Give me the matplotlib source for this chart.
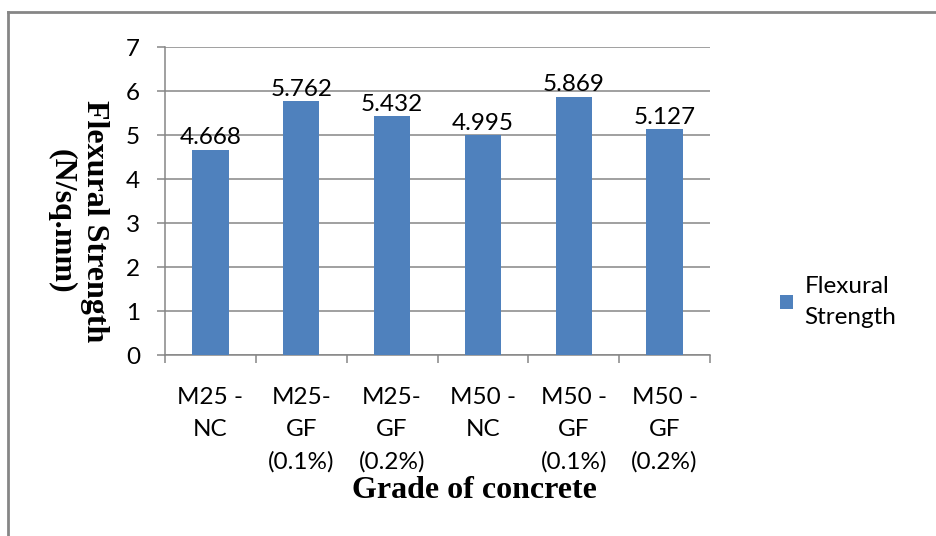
import matplotlib.pyplot as plt
from matplotlib.lines import Line2D

categories = ["M25 -\nNC", "M25-\nGF\n(0.1%)", "M25-\nGF\n(0.2%)",
              "M50 -\nNC", "M50 -\nGF\n(0.1%)", "M50 -\nGF\n(0.2%)"]
strength = [4.668, 5.762, 5.432, 4.995, 5.869, 5.127]
y_ticks = [0, 1, 2, 3, 4, 5, 6, 7]

bar_color = "#4F81BD"
grid_color = "#868686"
label_font = "Lato"
title_font = "Liberation Serif"
fs = 17.5

fig = plt.figure(figsize=(9.36, 5.36), dpi=100)
ax = fig.add_axes([165 / 936, 1 - 355 / 536, 545 / 936, 308 / 536])

x = list(range(len(categories)))
ax.bar(x, strength, width=0.4, color=bar_color, zorder=3,
       label="Flexural\nStrength")

for xi, v in zip(x, strength):
    ax.annotate(f"{v:.3f}", (xi, v), xytext=(0, 1), textcoords="offset points",
                ha="center", va="bottom", fontsize=fs, family=label_font)

ax.set_xlim(-0.5, len(categories) - 0.5)
ax.set_ylim(0, 7)
ax.set_yticks(y_ticks)
ax.set_yticklabels([str(t) for t in y_ticks], family=label_font, fontsize=fs)
# category boundaries carry the tick marks, centres carry the names
ax.set_xticks([i - 0.5 for i in range(len(categories) + 1)])
ax.set_xticklabels([])
ax.set_xticks(x, minor=True)
ax.set_xticklabels(categories, minor=True, family=label_font, fontsize=fs,
                   linespacing=1.65, va="top")

ax.yaxis.grid(True, color=grid_color, linewidth=1.1, zorder=0)
ax.tick_params(axis="y", length=6, width=1.1, color=grid_color, pad=12)
ax.tick_params(axis="x", which="major", length=6, width=1.1, color=grid_color)
ax.tick_params(axis="x", which="minor", length=0, pad=23)

for side in ["top", "right"]:
    ax.spines[side].set_visible(False)
for side in ["left", "bottom"]:
    ax.spines[side].set_color(grid_color)
    ax.spines[side].set_linewidth(1.1)

# axis titles
fig.text(474 / 936, 1 - 491 / 536, "Grade of concrete", family=title_font,
         fontweight="bold", fontsize=23, ha="center", va="center")
fig.text(77.5 / 936, 1 - 221 / 536, "Flexural Strength\n(N/sq.mm)",
         family=title_font, fontweight="bold", fontsize=23, rotation=270,
         ha="center", va="center", multialignment="center")

leg = ax.legend(loc="center left", bbox_to_anchor=((780 - 165) / 545, 53 / 308),
                frameon=False, prop={"family": label_font, "size": fs},
                handlelength=0.55, handleheight=0.55, handletextpad=0.45,
                borderpad=0, borderaxespad=0)
for t in leg.get_texts():
    t.set_linespacing(1.6)

# outer frame around the chart (only top and left edges fall inside the image)
fig.add_artist(Line2D([8 / 936, 8 / 936], [0, 1 - 12 / 536],
                      transform=fig.transFigure, color=grid_color, linewidth=2))
fig.add_artist(Line2D([8 / 936, 1], [1 - 12 / 536, 1 - 12 / 536],
                      transform=fig.transFigure, color=grid_color, linewidth=2))

fig.savefig("out.png", dpi=100)
